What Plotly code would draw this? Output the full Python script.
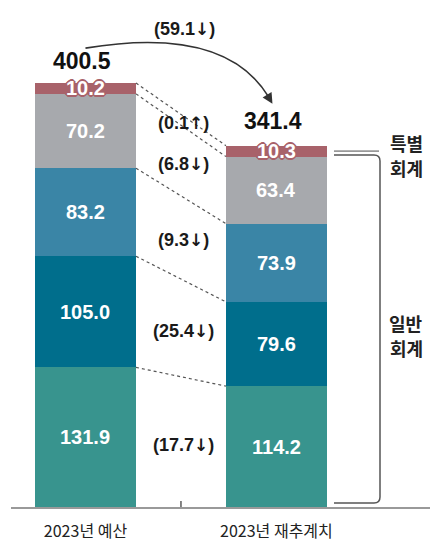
import plotly.graph_objects as go

# ---- data ----
categories = ["2023년 예산", "2023년 재추계치"]
segments = ["일반회계 1", "일반회계 2", "일반회계 3", "일반회계 4", "특별회계"]
budget_2023 = [131.9, 105.0, 83.2, 70.2, 10.2]
reestimate_2023 = [114.2, 79.6, 73.9, 63.4, 10.3]
colors = ["#38948e", "#006e8c", "#3a85a6", "#a7a9ad", "#a8626a"]
bracket_labels = [["특별", "회계"], ["일반", "회계"]]

# ---- layout geometry ----
W, H = 443, 545
ML, MR, MT, MB = 11, 13, 0, 38
PX_L, PX_R, PX_T, PX_B = ML, W - MR, MT, H - MB
XR = [-0.39, 1.804]
YR = [0, 479]
BAR_W = 0.529
FONT = "Liberation Sans, Arial, Noto Sans CJK KR, sans-serif"
KFONT = "Noto Sans CJK KR, Liberation Sans, sans-serif"


def xd(px):
    return XR[0] + (px - PX_L) / (PX_R - PX_L) * (XR[1] - XR[0])


def yd(py):
    return YR[0] + (PX_B - py) / (PX_B - PX_T) * (YR[1] - YR[0])


def xp(x):
    return PX_L + (x - XR[0]) / (XR[1] - XR[0]) * (PX_R - PX_L)


def yp(y):
    return PX_B - (y - YR[0]) / (YR[1] - YR[0]) * (PX_B - PX_T)


def cum(vals):
    out, s = [], 0
    for v in vals:
        s += v
        out.append(round(s, 1))
    return out


def arrow_of(d):
    a = "↑" if d > 0 else "↓"
    return f"<span style='font-family:DejaVu Sans;font-size:17px'>{a}</span>"


c1, c2 = cum(budget_2023), cum(reestimate_2023)
tot1, tot2 = c1[-1], c2[-1]

fig = go.Figure()
for name, v1, v2, col in zip(segments, budget_2023, reestimate_2023, colors):
    fig.add_trace(go.Bar(x=[0, 1], y=[v1, v2], name=name, marker=dict(color=col, line=dict(width=0)),
                         width=BAR_W, hoverinfo="skip", showlegend=False))

ann = []
shapes = []
red = colors[-1]
outline = ", ".join(f"{dx}px {dy}px 0 {red}" for dx, dy in
                    [(1, 1), (-1, -1), (1, -1), (-1, 1), (2, 0), (-2, 0), (0, 2), (0, -2)])

# value labels
for xi, vals, cs in [(0, budget_2023, c1), (1, reestimate_2023, c2)]:
    for i, v in enumerate(vals):
        mid = cs[i] - v / 2
        f = dict(family=FONT, size=20, color="white")
        if i == len(vals) - 1:
            f["shadow"] = outline
        ann.append(dict(x=xi, y=mid, text=f"<b>{v:.1f}</b>", showarrow=False, font=f,
                        xanchor="center", yanchor="middle"))

# difference labels between bars
for i, (v1, v2) in enumerate(zip(budget_2023, reestimate_2023)):
    d = round(v2 - v1, 1)
    ymid = ((c1[i] - v1 / 2) + (c2[i] - v2 / 2)) / 2
    ann.append(dict(x=0.5, y=ymid, text=f"<b>({abs(d):.1f}{arrow_of(d)})</b>", showarrow=False,
                    font=dict(family=FONT, size=18, color="#1a1a1a"), xshift=3, yshift=-3))

# totals
for xi, t in [(0, tot1), (1, tot2)]:
    ann.append(dict(x=xi, y=t, text=f"<b>{t:.1f}</b>", showarrow=False, yanchor="bottom",
                    font=dict(family=FONT, size=23, color="#111"), xshift=-3, yshift=7 if xi == 0 else 10))

# total change label
dt = round(tot2 - tot1, 1)
ann.append(dict(x=xd(184), y=yd(29), text=f"<b>({abs(dt):.1f}{arrow_of(dt)})</b>", showarrow=False,
                font=dict(family=FONT, size=18, color="#1a1a1a")))

# curved arrow between totals
p0 = (xp(0), yp(tot1) - 35)
p2 = (xp(1) - 4, yp(tot2) - 42)
cpt = (225, 25)
shapes.append(dict(type="path", xref="x", yref="y",
                   path=f"M {xd(p0[0])},{yd(p0[1])} Q {xd(cpt[0])},{yd(cpt[1])} {xd(p2[0]-4)},{yd(p2[1]-7)}",
                   line=dict(color="#333", width=1.6)))
ann.append(dict(x=xd(p2[0]), y=yd(p2[1]), ax=-6, ay=-10, axref="pixel", ayref="pixel", text="",
                showarrow=True, arrowhead=2, arrowsize=1.3, arrowwidth=1.6, arrowcolor="#333", standoff=0))

# dotted connectors
for a, b in zip(c1, c2):
    shapes.append(dict(type="line", xref="x", yref="y", x0=0 + BAR_W / 2, y0=a, x1=1 - BAR_W / 2, y1=b,
                       line=dict(color="#555", width=1.2, dash="dot")))

# small tick on axis between categories
shapes.append(dict(type="line", xref="x", yref="y", x0=0.5, x1=0.5, y0=0, y1=yd(PX_B - 6),
                   line=dict(color="#333", width=1.2)))

# brackets
bx0 = xp(1 + BAR_W / 2) + 7
bx1 = 380
sp_y = yp(c2[-1] - reestimate_2023[-1] / 2)
shapes.append(dict(type="line", xref="x", yref="y", x0=xd(bx0), x1=xd(bx1 - 1), y0=yd(sp_y), y1=yd(sp_y),
                   line=dict(color="#999", width=1.6)))
gt = yp(c2[-2]) - 1.5
gb = yp(0) - 4
r = 6
path = (f"M {xd(bx0)},{yd(gt)} L {xd(bx1 - r)},{yd(gt)} Q {xd(bx1)},{yd(gt)} {xd(bx1)},{yd(gt + r)} "
        f"L {xd(bx1)},{yd(gb - r)} Q {xd(bx1)},{yd(gb)} {xd(bx1 - r)},{yd(gb)} L {xd(bx0)},{yd(gb)}")
shapes.append(dict(type="path", xref="x", yref="y", path=path, line=dict(color="#555", width=1.5)))

for lines, ycenter in zip(bracket_labels, [155, 335]):
    for j, line in enumerate(lines):
        ann.append(dict(x=xd(406), y=yd(ycenter - 12.5 + 25 * j), text=f"<b>{line}</b>", showarrow=False,
                        font=dict(family=KFONT, size=18, color="#222"), yanchor="middle"))

fig.update_layout(
    width=W, height=H, barmode="stack", bargap=0,
    margin=dict(l=ML, r=MR, t=MT, b=MB),
    plot_bgcolor="white", paper_bgcolor="white",
    annotations=ann, shapes=shapes,
    xaxis=dict(range=XR, tickvals=[0, 1], ticktext=categories, showgrid=False, zeroline=False,
               showline=True, linecolor="#999", linewidth=2, ticks="", ticklabelstandoff=9,
               tickfont=dict(family=KFONT, size=16, color="#222"), fixedrange=True),
    yaxis=dict(range=YR, visible=False, showgrid=False, zeroline=False, fixedrange=True),
)

fig.write_html("out.html", config=dict(displayModeBar=False),
               post_script="document.body.style.margin='0';document.body.style.overflow='hidden';")
